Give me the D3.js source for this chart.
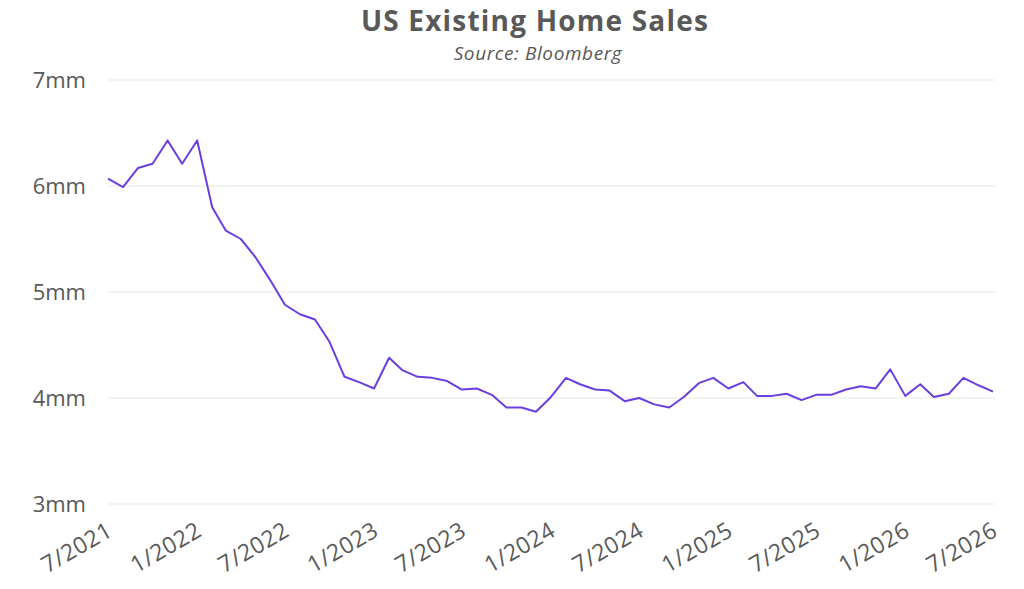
<!DOCTYPE html>
<html>
<head>
<meta charset="utf-8">
<script src="https://cdn.jsdelivr.net/npm/d3@7"></script>
<style>
  body { margin: 0; background: #fff; }
  svg { font-family: "Open Sans", Lato, sans-serif; }
</style>
</head>
<body>
<svg></svg>
<script>
// monthly, 7/2021 .. 7/2026, millions (annualized)
const startMonth = '2021-07';
const sales = [
  6.07, 5.99, 6.17, 6.21, 6.43, 6.21, 6.43, 5.80, 5.58, 5.50, 5.33, 5.11,
  4.88, 4.79, 4.74, 4.53, 4.20, 4.15, 4.09, 4.38, 4.26, 4.20, 4.19, 4.16,
  4.08, 4.09, 4.03, 3.91, 3.91, 3.87, 4.01, 4.19, 4.13, 4.08, 4.07, 3.97,
  4.00, 3.94, 3.91, 4.01, 4.14, 4.19, 4.09, 4.15, 4.02, 4.02, 4.04, 3.98,
  4.03, 4.03, 4.08, 4.11, 4.09, 4.27, 4.02, 4.13, 4.01, 4.04, 4.19, 4.12,
  4.06
];
const yTicks = [3, 4, 5, 6, 7];
const xTickLabels = ['7/2021', '1/2022', '7/2022', '1/2023', '7/2023', '1/2024',
  '7/2024', '1/2025', '7/2025', '1/2026', '7/2026'];

function drawChart() {
  const width = 1024;
  const height = 589;
  const margin = { top: 80, right: 30, bottom: 85, left: 108 };

  const svg = d3.select('svg').attr('width', width).attr('height', height);

  const t0 = d3.timeParse('%Y-%m')(startMonth);
  const data = sales.map((v, i) => ({ date: d3.timeMonth.offset(t0, i), value: v }));
  const tickDates = xTickLabels.map((s) => d3.timeParse('%m/%Y')(s));

  const x = d3.scaleTime()
    .domain(d3.extent(data, (d) => d.date))
    .range([margin.left, 993]);
  const y = d3.scaleLinear()
    .domain([3, 7])
    .range([504, margin.top]);

  // gridlines
  svg.append('g')
    .selectAll('line')
    .data(yTicks)
    .join('line')
    .attr('x1', margin.left)
    .attr('x2', 995)
    .attr('y1', (d) => y(d))
    .attr('y2', (d) => y(d))
    .attr('stroke', '#e8e8e8')
    .attr('stroke-width', 1);

  // y labels
  svg.append('g')
    .selectAll('text')
    .data(yTicks)
    .join('text')
    .attr('x', 86)
    .attr('y', (d) => y(d))
    .attr('dy', '0.35em')
    .attr('text-anchor', 'end')
    .attr('fill', '#595959')
    .style('font-size', '22px')
    .text((d) => d + 'mm');

  // x labels, rotated
  svg.append('g')
    .selectAll('text')
    .data(tickDates)
    .join('text')
    .attr('transform', (d) => 'translate(' + (x(d) + 2) + ',528) rotate(-30)')
    .attr('text-anchor', 'end')
    .attr('dy', '0.35em')
    .attr('fill', '#595959')
    .style('font-size', '23px')
    .style('letter-spacing', '0.5px')
    .text((d, i) => xTickLabels[i]);

  const line = d3.line()
    .x((d) => x(d.date))
    .y((d) => y(d.value));

  svg.append('path')
    .datum(data)
    .attr('fill', 'none')
    .attr('stroke', '#6b3ee0')
    .attr('stroke-width', 2)
    .attr('stroke-linejoin', 'round')
    .attr('d', line);

  svg.append('text')
    .attr('x', 535)
    .attr('y', 31)
    .attr('text-anchor', 'middle')
    .attr('fill', '#595959')
    .style('font-size', '28px')
    .style('font-weight', 'bold')
    .style('letter-spacing', '1.2px')
    .text('US Existing Home Sales');

  svg.append('text')
    .attr('x', 538)
    .attr('y', 60)
    .attr('text-anchor', 'middle')
    .attr('fill', '#595959')
    .style('font-size', '19px')
    .style('font-style', 'italic')
    .style('letter-spacing', '0.6px')
    .text('Source: Bloomberg');
}

drawChart();
</script>
</body>
</html>
